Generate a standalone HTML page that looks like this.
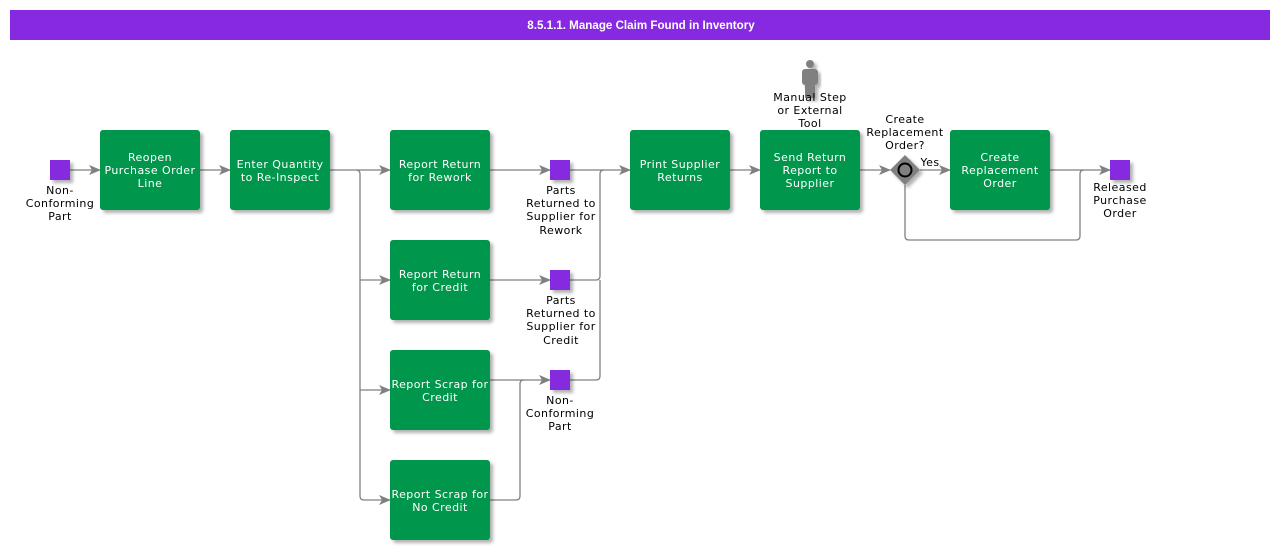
<!DOCTYPE html>
<html><head><meta charset="utf-8"><style>
html,body{margin:0;padding:0;background:#fff;}
svg{display:block;}
text{font-family:"DejaVu Sans","Liberation Sans",sans-serif;font-size:11px;letter-spacing:0.45px;}
.w{fill:#fff;text-anchor:middle;}
.b{fill:#000;text-anchor:middle;}
.l{fill:none;stroke:#808080;stroke-width:1.3;}
</style></head><body>
<svg width="1280" height="550" viewBox="0 0 1280 550" xmlns="http://www.w3.org/2000/svg">
<defs>
<marker id="a" markerWidth="12" markerHeight="10" refX="11" refY="5" orient="auto" markerUnits="userSpaceOnUse">
<path d="M0,0 L12,5 L0,10 L3,5 Z" fill="#808080"/></marker>
<filter id="s" x="-10%" y="-10%" width="130%" height="130%"><feDropShadow dx="3" dy="3" stdDeviation="1.5" flood-color="#000" flood-opacity="0.3"/></filter>
</defs>
<rect x="10" y="10" width="1260" height="30" fill="#8629e0"/>
<text x="641" y="29" style="font-family:'Liberation Sans',sans-serif;font-weight:bold;font-size:11.6px;letter-spacing:0;fill:#fff;text-anchor:middle">8.5.1.1. Manage Claim Found in Inventory</text>

<path class="l" d="M70,170 H100" marker-end="url(#a)"/>
<path class="l" d="M200,170 H230" marker-end="url(#a)"/>
<path class="l" d="M330,170 H390" marker-end="url(#a)"/>
<path class="l" d="M356,170 Q360,170 360,174 V496 Q360,500 364,500 H390" marker-end="url(#a)"/>
<path class="l" d="M360,280 H390" marker-end="url(#a)"/>
<path class="l" d="M360,390 H390" marker-end="url(#a)"/>
<path class="l" d="M490,170 H550" marker-end="url(#a)"/>
<path class="l" d="M490,280 H550" marker-end="url(#a)"/>
<path class="l" d="M490,380 H550" marker-end="url(#a)"/>
<path class="l" d="M490,500 H516 Q520,500 520,496 V384 Q520,380 524,380"/>
<path class="l" d="M570,170 H630" marker-end="url(#a)"/>
<path class="l" d="M570,280 H596 Q600,280 600,276 V174 Q600,170 604,170"/>
<path class="l" d="M570,380 H596 Q600,380 600,376 V280"/>
<path class="l" d="M730,170 H760" marker-end="url(#a)"/>
<path class="l" d="M860,170 H890" marker-end="url(#a)"/>
<path class="l" d="M920,170 H950" marker-end="url(#a)"/>
<path class="l" d="M1050,170 H1110" marker-end="url(#a)"/>
<path class="l" d="M905,185 V236 Q905,240 909,240 H1076 Q1080,240 1080,236 V174 Q1080,170 1084,170"/>

<g fill="#8629e0" filter="url(#s)">
<rect x="50" y="160" width="20" height="20"/>
<rect x="550" y="160" width="20" height="20"/>
<rect x="550" y="270" width="20" height="20"/>
<rect x="550" y="370" width="20" height="20"/>
<rect x="1110" y="160" width="20" height="20"/>
</g>

<g fill="#00964b" filter="url(#s)">
<rect x="100" y="130" width="100" height="80" rx="3"/>
<rect x="230" y="130" width="100" height="80" rx="3"/>
<rect x="390" y="130" width="100" height="80" rx="3"/>
<rect x="390" y="240" width="100" height="80" rx="3"/>
<rect x="390" y="350" width="100" height="80" rx="3"/>
<rect x="390" y="460" width="100" height="80" rx="3"/>
<rect x="630" y="130" width="100" height="80" rx="3"/>
<rect x="760" y="130" width="100" height="80" rx="3"/>
<rect x="950" y="130" width="100" height="80" rx="3"/>
</g>

<path d="M905,155 L920,170 L905,185 L890,170 Z" fill="#808080" filter="url(#s)"/>
<circle cx="905" cy="170" r="6.5" fill="none" stroke="#000" stroke-width="2"/>

<g fill="#808080" filter="url(#s)">
<circle cx="810" cy="64" r="4"/>
<rect x="802" y="69" width="16" height="16" rx="3"/>
<rect x="805" y="82" width="10" height="16"/>
</g>

<text class="w" x="150" y="161">Reopen</text>
<text class="w" x="150" y="174">Purchase Order</text>
<text class="w" x="150" y="187">Line</text>
<text class="w" x="280" y="168">Enter Quantity</text>
<text class="w" x="280" y="181">to Re-Inspect</text>
<text class="w" x="440" y="168">Report Return</text>
<text class="w" x="440" y="181">for Rework</text>
<text class="w" x="440" y="278">Report Return</text>
<text class="w" x="440" y="291">for Credit</text>
<text class="w" x="440" y="388">Report Scrap for</text>
<text class="w" x="440" y="401">Credit</text>
<text class="w" x="440" y="498">Report Scrap for</text>
<text class="w" x="440" y="511">No Credit</text>
<text class="w" x="680" y="168">Print Supplier</text>
<text class="w" x="680" y="181">Returns</text>
<text class="w" x="810" y="161">Send Return</text>
<text class="w" x="810" y="174">Report to</text>
<text class="w" x="810" y="187">Supplier</text>
<text class="w" x="1000" y="161">Create</text>
<text class="w" x="1000" y="174">Replacement</text>
<text class="w" x="1000" y="187">Order</text>

<text class="b" x="60" y="194">Non-</text>
<text class="b" x="60" y="207">Conforming</text>
<text class="b" x="60" y="220">Part</text>
<text class="b" x="561" y="194">Parts</text>
<text class="b" x="561" y="207">Returned to</text>
<text class="b" x="561" y="220">Supplier for</text>
<text class="b" x="561" y="234">Rework</text>
<text class="b" x="561" y="304">Parts</text>
<text class="b" x="561" y="317">Returned to</text>
<text class="b" x="561" y="330">Supplier for</text>
<text class="b" x="561" y="344">Credit</text>
<text class="b" x="560" y="404">Non-</text>
<text class="b" x="560" y="417">Conforming</text>
<text class="b" x="560" y="430">Part</text>
<text class="b" x="810" y="101">Manual Step</text>
<text class="b" x="810" y="114">or External</text>
<text class="b" x="810" y="127">Tool</text>
<text class="b" x="905" y="123">Create</text>
<text class="b" x="905" y="136">Replacement</text>
<text class="b" x="905" y="149">Order?</text>
<text class="b" x="930" y="166">Yes</text>
<text class="b" x="1120" y="191">Released</text>
<text class="b" x="1120" y="204">Purchase</text>
<text class="b" x="1120" y="217">Order</text>
</svg>
</body></html>
